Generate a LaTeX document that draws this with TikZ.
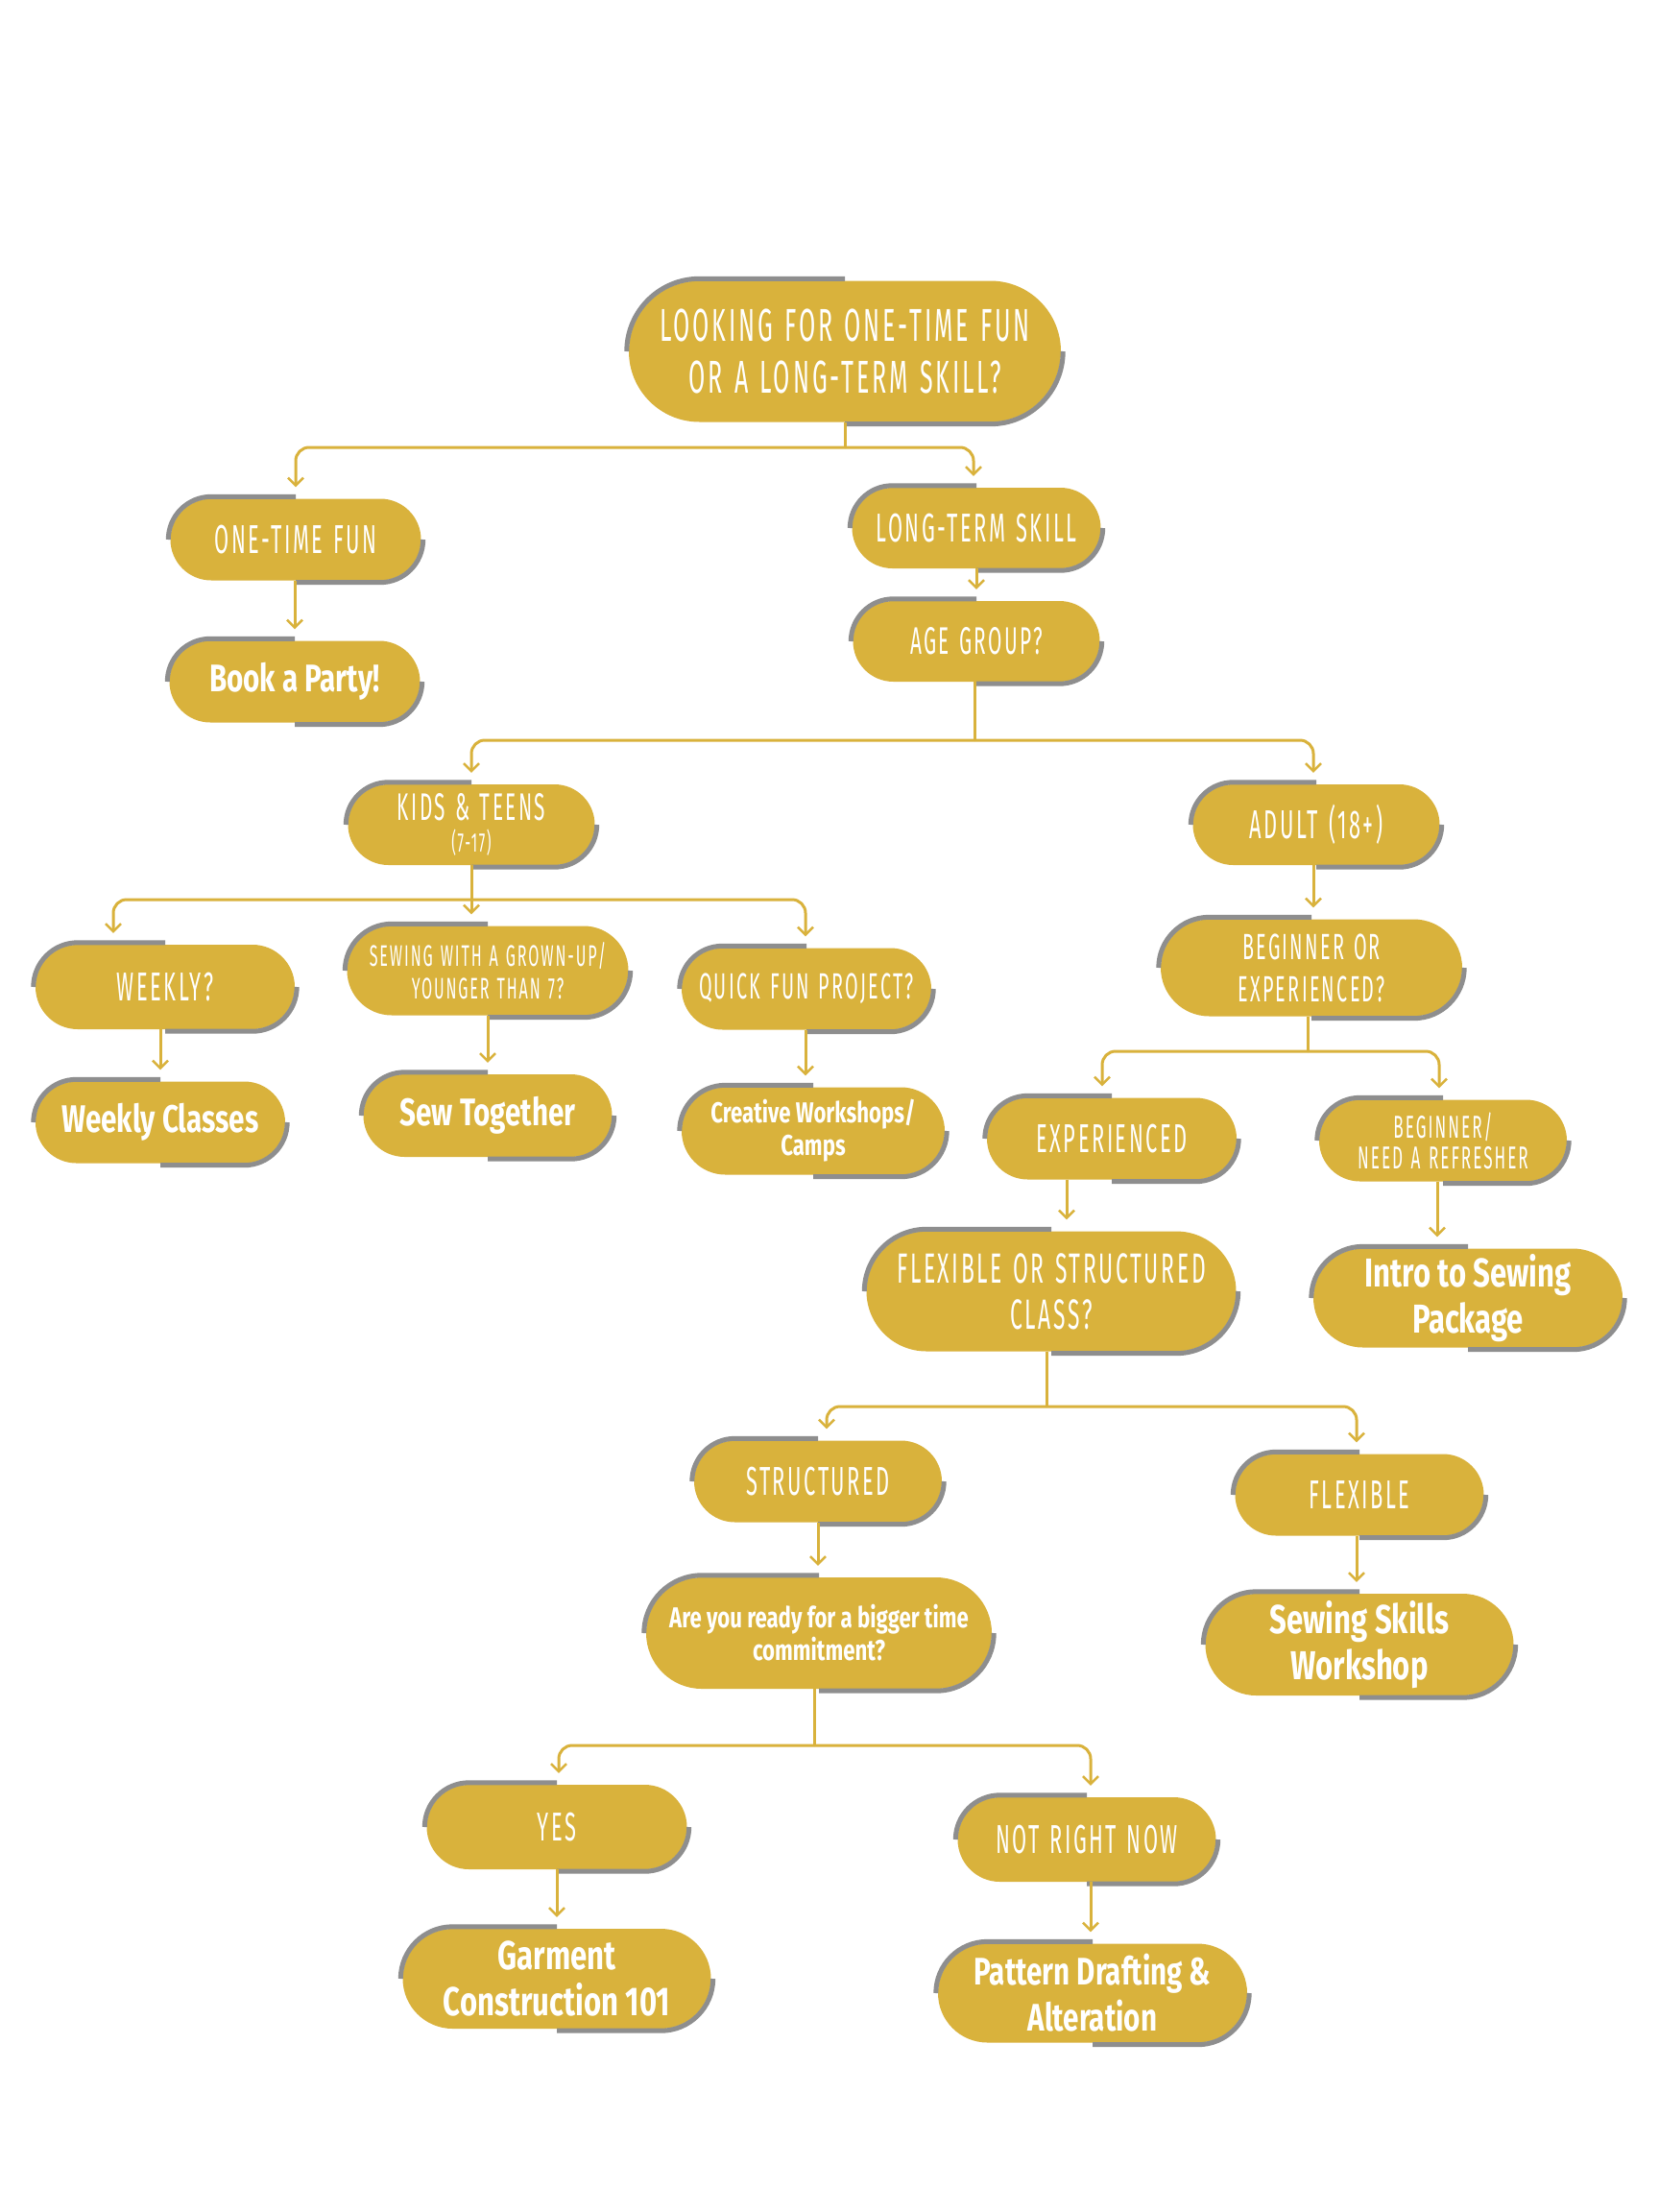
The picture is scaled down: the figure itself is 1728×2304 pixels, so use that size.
\documentclass[tikz,border=0pt]{standalone}
\usepackage{fontspec}
\newfontfamily\capsf[FakeStretch=0.52,LetterSpace=6,WordSpace=1.3]{Fira Sans}
\newfontfamily\boldf[FakeStretch=0.74]{Fira Sans}
\usetikzlibrary{shapes.misc,arrows.meta,calc}
\definecolor{gold}{HTML}{D9B23C}
\definecolor{greyl}{HTML}{8E8E8E}
\tikzset{
  pill/.style 2 args={rounded rectangle, fill=gold, text=white, align=center,
    inner sep=0pt, minimum width=#1pt, minimum height=#2pt},
  capsA/.style 2 args={font=\capsf\fontsize{#1}{#2}\selectfont},
  boldA/.style 2 args={font=\boldf\bfseries\fontsize{#1}{#2}\selectfont},
  greyedge/.style={draw=greyl, line width=5pt},
  conn/.style={draw=gold, line width=3pt, shorten >=12pt,
    -{Straight Barb[length=8pt,width=16pt,line width=2.5pt]}},
  stem/.style={draw=gold, line width=3pt},
  branch/.style={conn, rounded corners=14pt}
}
\newcommand\pillshade[1]{%
  \draw[greyedge] let \p1=(#1.north), \p2=(#1.south), \p3=(#1.east), \p4=(#1.west),
    \n1={(\y1-\y2)/2}, \n2={(\y1-\y2)/2+2pt} in
    (\x4-2pt,\y4) arc[start angle=180,end angle=90,radius=\n2] -- (\x1,\y1+2pt)
    (\x2,\y2-2pt) -- (\x3-\n1,\y2-2pt) arc[start angle=270,end angle=360,radius=\n2];}
\begin{document}
\begin{tikzpicture}[x=1pt,y=1pt]
\useasboundingbox[fill=white] (0,0) rectangle (1728,-2304);
% nodes
\node[pill={450}{147}, capsA={48}{54}] (root) at (880,-366) {LOOKING FOR ONE-TIME FUN\\OR A LONG-TERM SKILL?};
\node[pill={261}{85}, capsA={42}{48}] (onetime) at (308,-562) {ONE-TIME FUN};
\node[pill={261}{85}, boldA={40}{48}] (party) at (307,-710) {Book a Party!};
\node[pill={259}{84}, capsA={42}{48}] (longterm) at (1017,-550) {LONG-TERM SKILL};
\node[pill={257}{84}, capsA={40}{32}] (age) at (1017,-668) {AGE GROUP?};
\node[pill={257}{84}, capsA={40}{33}] (kids) at (491,-859) {KIDS \& TEENS\\{\fontsize{28}{28}\selectfont(7-17)}};
\node[pill={257}{84}, capsA={42}{46}] (adult) at (1371,-859) {ADULT (18+)};
\node[pill={270}{88}, capsA={42}{48}] (weekly) at (172,-1028) {WEEKLY?};
\node[pill={293}{93}, capsA={31}{34}] (sewwith) at (508,-1011) {SEWING WITH A GROWN-UP/\\YOUNGER THAN 7?};
\node[pill={260}{85}, capsA={38}{40}] (quick) at (840,-1030) {QUICK FUN PROJECT?};
\node[pill={260}{85}, boldA={40}{48}] (wclasses) at (167,-1169) {Weekly Classes};
\node[pill={259}{86}, boldA={40}{48}] (sewtog) at (508,-1162) {Sew Together};
\node[pill={274}{91}, boldA={30}{34}] (creative) at (847,-1178) {Creative Workshops/\\Camps};
\node[pill={314}{101}, capsA={38}{44}] (begexp) at (1366,-1008) {BEGINNER OR\\EXPERIENCED?};
\node[pill={260}{85}, capsA={42}{48}] (exp) at (1158,-1186) {EXPERIENCED};
\node[pill={258}{85}, capsA={33}{32}] (beg) at (1503,-1188) {BEGINNER/\\NEED A REFRESHER};
\node[pill={385}{125}, capsA={44}{48}] (flexstr) at (1095,-1345) {FLEXIBLE OR STRUCTURED\\CLASS?};
\node[pill={322}{103}, boldA={42}{48}] (intro) at (1529,-1352) {Intro to Sewing\\Package};
\node[pill={258}{85}, capsA={42}{48}] (struct) at (852,-1543) {STRUCTURED};
\node[pill={259}{85}, capsA={42}{48}] (flex) at (1416,-1557) {FLEXIBLE};
\node[pill={360}{116}, boldA={30}{34}] (ready) at (853,-1701) {Are you ready for a bigger time\\commitment?};
\node[pill={321}{106}, boldA={42}{48}] (skills) at (1416,-1713) {Sewing Skills\\Workshop};
\node[pill={271}{88}, capsA={42}{48}] (yes) at (580,-1903) {YES};
\node[pill={269}{88}, capsA={42}{48}] (notnow) at (1132,-1916) {NOT RIGHT NOW};
\node[pill={321}{104}, boldA={42}{48}] (garment) at (580,-2061) {Garment\\Construction 101};
\node[pill={322}{103}, boldA={40}{48}] (pattern) at (1138,-2076) {Pattern Drafting \&\\Alteration};
\foreach \nd in {root,onetime,party,longterm,age,kids,adult,weekly,sewwith,quick,wclasses,sewtog,creative,begexp,exp,beg,flexstr,intro,struct,flex,ready,skills,yes,notnow,garment,pattern}
  {\pillshade{\nd}}
% branch bars
\coordinate (b1) at (880,-466);
\coordinate (b2) at (1015,-771);
\coordinate (b3) at (491,-937);
\coordinate (b4) at (1362,-1095);
\coordinate (b5) at (1090,-1465);
\coordinate (b6) at (848,-1818);
\draw[stem] (root.south) -- (b1);
\draw[branch] (b1) -| (onetime.north);
\draw[branch] (b1) -| ([xshift=-3pt]longterm.north);
\draw[conn] (party.north |- onetime.south) -- (party.north);
\draw[conn] (age.north |- longterm.south) -- (age.north);
\draw[stem] (age.south -| b2) -- (b2);
\draw[branch] (b2) -| (kids.north);
\draw[branch] (b2) -| ([xshift=-3pt]adult.north);
\draw[stem] (kids.south) -- (b3);
\draw[branch] (b3) -| ([xshift=-54pt]weekly.north);
\draw[conn] (b3) -- ([xshift=-17pt]sewwith.north);
\draw[branch] (b3) -| ([xshift=-1pt]quick.north);
\draw[conn] (wclasses.north |- weekly.south) -- (wclasses.north);
\draw[conn] (sewtog.north |- sewwith.south) -- (sewtog.north);
\draw[conn] ([xshift=-8pt]creative.north |- quick.south) -- ([xshift=-8pt]creative.north);
\draw[conn] ([xshift=2pt]begexp.north |- adult.south) -- ([xshift=2pt]begexp.north);
\draw[stem] (begexp.south -| b4) -- (b4);
\draw[branch] (b4) -| ([xshift=-10pt]exp.north);
\draw[branch] (b4) -| ([xshift=-4pt]beg.north);
\draw[conn] ([xshift=-47pt]exp.south) -- ([xshift=16pt]flexstr.north);
\draw[conn] ([xshift=-6pt]beg.south) -- ([xshift=-32pt]intro.north);
\draw[stem] (flexstr.south -| b5) -- (b5);
\draw[branch] (b5) -| ([xshift=9pt]struct.north);
\draw[branch] (b5) -| ([xshift=-3pt]flex.north);
\draw[conn] (struct.north |- struct.south) -- (ready.north -| struct.north);
\draw[conn] ([xshift=-3pt]flex.south) -- ([xshift=-3pt]skills.north);
\draw[stem] ([xshift=-5pt]ready.south) -- (b6);
\draw[branch] (b6) -| ([xshift=2pt]yes.north);
\draw[branch] (b6) -| ([xshift=4pt]notnow.north);
\draw[conn] (yes.south) -- (garment.north);
\draw[conn] ([xshift=4pt]notnow.south) -- ([xshift=-2pt]pattern.north);
\end{tikzpicture}
\end{document}
